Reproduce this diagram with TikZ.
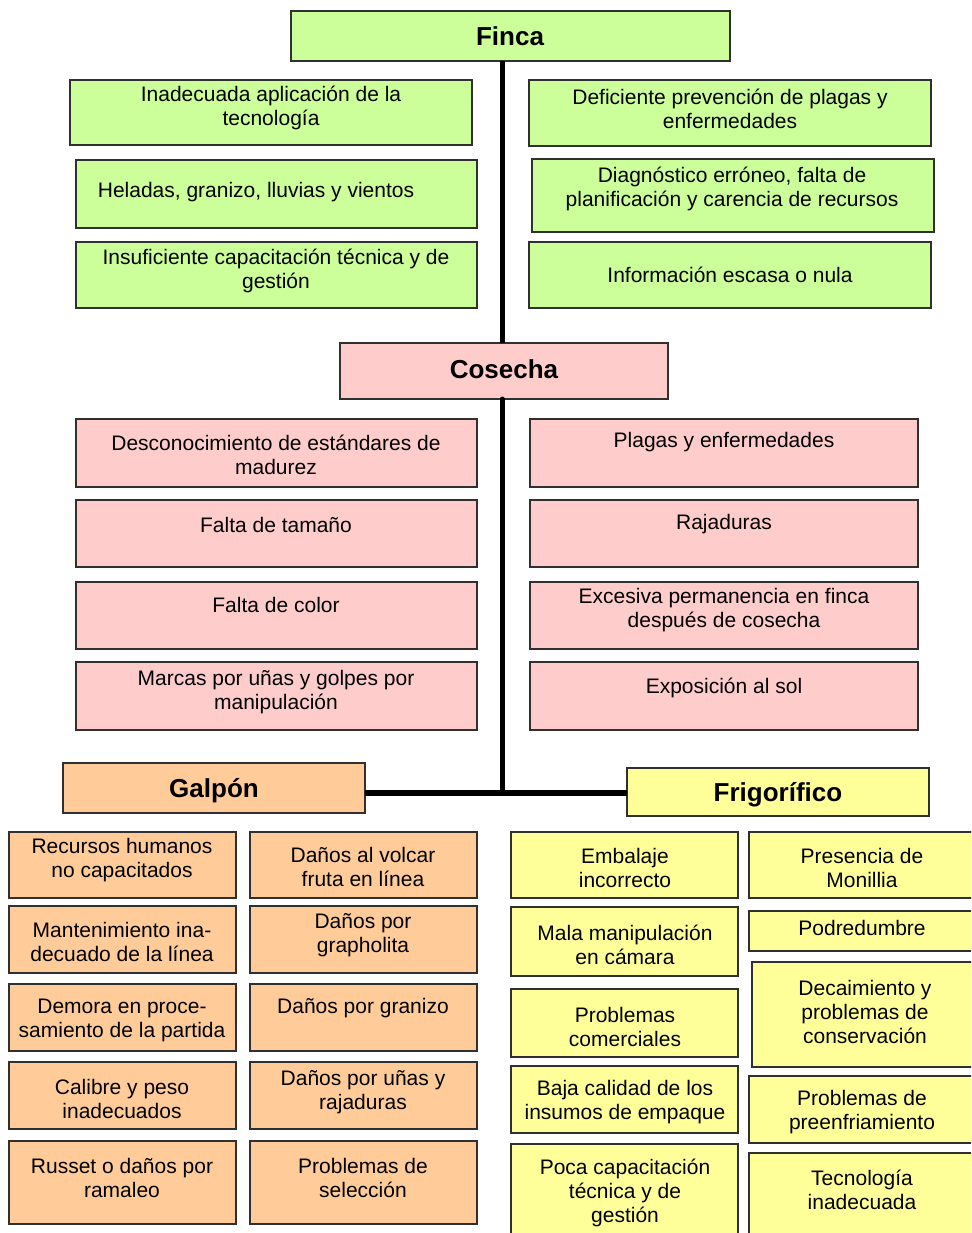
\documentclass[tikz,border=0pt]{standalone}
\usepackage{fontspec}
\setmainfont{Liberation Sans}
\usetikzlibrary{fit}
\definecolor{cgreen}{HTML}{CCFF99}
\definecolor{cpink}{HTML}{FFCCCC}
\definecolor{corange}{HTML}{FFCC99}
\definecolor{cyellow}{HTML}{FFFF99}
\definecolor{cborder}{HTML}{303030}
\tikzset{
  box/.style={draw=cborder, line width=1.4pt, inner sep=0pt, outer sep=0pt},
  gbox/.style={box, fill=cgreen},
  pbox/.style={box, fill=cpink},
  obox/.style={box, fill=corange},
  ybox/.style={box, fill=cyellow},
  txt/.style={align=center, inner sep=0pt, yshift=-1.5pt, font=\fontsize{21}{24}\selectfont},
  head/.style={align=center, inner sep=0pt, font=\fontsize{26}{30}\selectfont\bfseries},
  spine/.style={line width=5pt, black},
}
\newcommand\cbox[9]{%
  \node[#2, fit={(#3,#4) (#5,#6)}] (#1) {};
  \node[txt] (#1t) at (#7,#8) {#9};}
\newcommand\headbox[9]{%
  \node[#2, fit={(#3,#4) (#5,#6)}] (#1) {};
  \node[head] (#1t) at (#7,#8) {#9};}
\begin{document}
\begin{tikzpicture}[x=1pt,y=-1pt]
\path[use as bounding box] (0,0) rectangle (971,1233);
\clip (0,0) rectangle (971,1233);
% headers
\headbox{finca}{gbox}{291}{11}{730}{61}{510}{36}{Finca}
\headbox{cosecha}{pbox}{340}{343}{668}{399}{504}{369}{Cosecha}
\headbox{galpon}{obox}{63}{763}{365}{813}{214}{791}{Galpón}
\headbox{frig}{ybox}{627}{768}{929}{816}{778}{795}{Frigorífico}
% connectors
\coordinate (j) at (502,793);
\draw[spine] (finca.south -| j) -- (cosecha.north -| j);
\draw[spine, line cap=round] (cosecha.south -| j) -- (j);
\draw[spine, line width=6pt] (galpon.east |- j) -- (frig.west |- j);
% Finca
\cbox{fl1}{gbox}{70}{80}{472}{145}{271}{106.5}{Inadecuada aplicación de la\\tecnología}
\cbox{fl2}{gbox}{76}{160}{477}{228}{256}{191}{Heladas, granizo, lluvias y vientos}
\cbox{fl3}{gbox}{76}{242}{477}{308}{276}{269.5}{Insuficiente capacitación técnica y de\\gestión}
\cbox{fr1}{gbox}{529}{80}{931}{146}{730}{107}{Deficiente prevención de plagas y\\enfermedades}
\cbox{fr2}{gbox}{532}{159}{934}{232}{732}{187.5}{Diagnóstico erróneo, falta de\\planificación y carencia de recursos}
\cbox{fr3}{gbox}{529}{242}{931}{308}{730}{273}{Información escasa o nula}
% Cosecha
\cbox{cl1}{pbox}{76}{419}{477}{487}{276}{453}{Desconocimiento de estándares de\\madurez}
\cbox{cl2}{pbox}{76}{500}{477}{567}{276}{523}{Falta de tamaño}
\cbox{cl3}{pbox}{76}{582}{477}{649}{276}{603}{Falta de color}
\cbox{cl4}{pbox}{76}{662}{477}{730}{276}{691}{Marcas por uñas y golpes por\\manipulación}
\cbox{cr1}{pbox}{530}{419}{918}{487}{724}{441}{Plagas y enfermedades}
\cbox{cr2}{pbox}{530}{500}{918}{567}{724}{523}{Rajaduras}
\cbox{cr3}{pbox}{530}{582}{918}{649}{724}{609}{Excesiva permanencia en finca\\después de cosecha}
\cbox{cr4}{pbox}{530}{662}{918}{730}{724}{686}{Exposición al sol}
% Galpon
\cbox{gl1}{obox}{9}{832}{236}{898}{122}{858.5}{Recursos humanos\\no capacitados}
\cbox{gl2}{obox}{9}{906}{236}{973}{122}{940.5}{Mantenimiento ina-\\decuado de la línea}
\cbox{gl3}{obox}{9}{984}{236}{1051}{122}{1019}{Demora en proce-\\samiento de la partida}
\cbox{gl4}{obox}{9}{1062}{236}{1129}{122}{1097.5}{Calibre y peso\\inadecuados}
\cbox{gl5}{obox}{9}{1141}{236}{1224}{122}{1176}{Russet o daños por\\ramaleo}
\cbox{gr1}{obox}{250}{832}{477}{898}{363}{865.5}{Daños al volcar\\fruta en línea}
\cbox{gr2}{obox}{250}{906}{477}{973}{363}{933.5}{Daños por\\grapholita}
\cbox{gr3}{obox}{250}{984}{477}{1051}{363}{1007}{Daños por granizo}
\cbox{gr4}{obox}{250}{1062}{477}{1129}{363}{1090.5}{Daños por uñas y\\rajaduras}
\cbox{gr5}{obox}{250}{1141}{477}{1224}{363}{1176}{Problemas de\\selección}
% Frigorifico
\cbox{zl1}{ybox}{511}{832}{738}{898}{625}{866}{Embalaje\\incorrecto}
\cbox{zl2}{ybox}{511}{907}{738}{976}{625}{943}{Mala manipulación\\en cámara}
\cbox{zl3}{ybox}{511}{989}{738}{1057}{625}{1025}{Problemas\\comerciales}
\cbox{zl4}{ybox}{511}{1066}{738}{1133}{625}{1100.5}{Baja calidad de los\\insumos de empaque}
\cbox{zl5}{ybox}{511}{1144}{738}{1245}{625}{1191}{Poca capacitación\\técnica y de\\gestión}
\cbox{zr1}{ybox}{749}{832}{985}{898}{862}{866}{Presencia de\\Monillia}
\cbox{zr2}{ybox}{749}{911}{985}{951}{862}{926}{Podredumbre}
\cbox{zr3}{ybox}{752}{962}{985}{1067}{865}{1010.5}{Decaimiento y\\problemas de\\conservación}
\cbox{zr4}{ybox}{749}{1076}{985}{1143}{862}{1111}{Problemas de\\preenfriamiento}
\cbox{zr5}{ybox}{749}{1153}{985}{1245}{862}{1188}{Tecnología\\inadecuada}
\end{tikzpicture}
\end{document}
